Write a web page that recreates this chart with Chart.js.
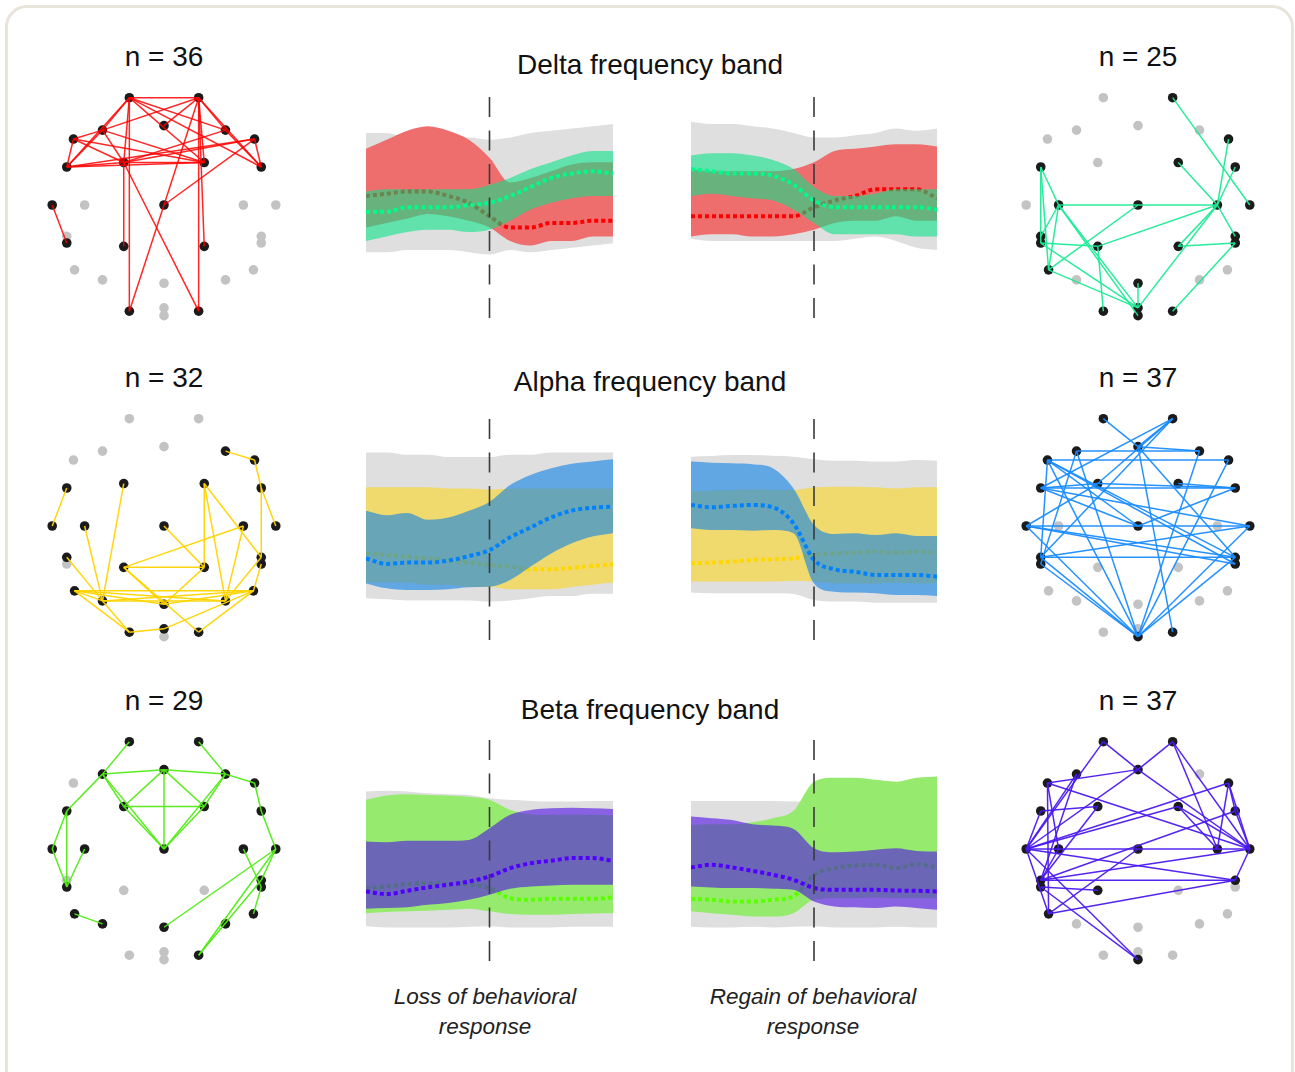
<!DOCTYPE html>
<html>
<head>
<meta charset="utf-8">
<script src="https://cdn.jsdelivr.net/npm/chart.js@4.4.1/dist/chart.umd.min.js"></script>
<style>
body { margin: 0; background: #fff; width: 1295px; height: 1072px; overflow: hidden; position: relative; font-family: "Liberation Sans", Arial, Helvetica, sans-serif; }
.frame { position: absolute; left: 5px; top: 5px; width: 1283px; height: 1110px; border: 3px solid #e8e4dc; border-radius: 22px; }
canvas { position: absolute; }
.lbl { position: absolute; transform: translate(-50%, -50%); font-size: 28px; color: #111; white-space: nowrap; }
.cap { position: absolute; transform: translateX(-50%); font-size: 22.5px; font-style: italic; text-align: center; line-height: 30px; color: #222; white-space: nowrap; }
</style>
</head>
<body>
<div class="frame"></div>

<div class="lbl" style="left:164px; top:57px">n = 36</div>
<div class="lbl" style="left:1138px; top:57px">n = 25</div>
<div class="lbl" style="left:650px; top:65px">Delta frequency band</div>
<div class="lbl" style="left:164px; top:378px">n = 32</div>
<div class="lbl" style="left:1138px; top:378px">n = 37</div>
<div class="lbl" style="left:650px; top:382px">Alpha frequency band</div>
<div class="lbl" style="left:164px; top:701px">n = 29</div>
<div class="lbl" style="left:1138px; top:701px">n = 37</div>
<div class="lbl" style="left:650px; top:710px">Beta frequency band</div>

<div class="cap" style="left:485px; top:982px">Loss of behavioral<br>response</div>
<div class="cap" style="left:813px; top:982px">Regain of behavioral<br>response</div>

<canvas id="net-delta-loss" width="260" height="260" style="left:34px; top:75px"></canvas>
<canvas id="net-delta-regain" width="260" height="260" style="left:1008px; top:75px"></canvas>
<canvas id="net-alpha-loss" width="260" height="260" style="left:34px; top:396px"></canvas>
<canvas id="net-alpha-regain" width="260" height="260" style="left:1008px; top:396px"></canvas>
<canvas id="net-beta-loss" width="260" height="260" style="left:34px; top:719px"></canvas>
<canvas id="net-beta-regain" width="260" height="260" style="left:1008px; top:719px"></canvas>

<canvas id="band-delta-loss" width="247" height="225" style="left:366px; top:97px"></canvas>
<canvas id="band-delta-regain" width="246" height="225" style="left:691px; top:97px"></canvas>
<canvas id="band-alpha-loss" width="247" height="224" style="left:366px; top:419px"></canvas>
<canvas id="band-alpha-regain" width="246" height="224" style="left:691px; top:419px"></canvas>
<canvas id="band-beta-loss" width="247" height="224" style="left:366px; top:740px"></canvas>
<canvas id="band-beta-regain" width="246" height="224" style="left:691px; top:740px"></canvas>

<script>
// start: data
// time relative to loss / regain of response (s)
const times = [-60, -50, -40, -30, -20, -10, 0, 10, 20, 30, 40, 50, 60]

// electrode layout (head seen from above, nose up)
const electrodeNames = ['Fp1','Fp2','Fz','F3','F4','F7','F8','FC5','FC6','FC1','FC2','T7','T8','C3','C4','Cz','TP9','TP10','CP5','CP6','CP1','CP2','P7','P8','P3','P4','Pz','O1','O2','POz','Oz']
const electrodeX = [-0.31, 0.31, 0, -0.55, 0.55, -0.81, 0.81, -0.87, 0.87, -0.36, 0.36, -1, 1, -0.71, 0.71, 0, -0.87, 0.87, -0.87, 0.87, -0.36, 0.36, -0.80, 0.80, -0.55, 0.55, 0, -0.31, 0.31, 0, 0]
const electrodeY = [0.96, 0.96, 0.71, 0.67, 0.67, 0.59, 0.59, 0.34, 0.34, 0.38, 0.38, 0, 0, 0, 0, 0, -0.28, -0.28, -0.34, -0.34, -0.37, -0.37, -0.58, -0.58, -0.67, -0.67, -0.70, -0.95, -0.95, -0.92, -0.99]

// delta
const deltaLossNodes = ['Fp1','Fp2','Fz','F3','F4','F7','F8','FC5','FC6','FC1','FC2','T7','Cz','CP5','CP1','CP2','O1','O2']
const deltaLossEdges = [['Fp1','Fp2'],['Fp1','F3'],['Fp1','FC5'],['Fp1','FC1'],['Fp1','O1'],['Fp1','F4'],['Fp1','FC2'],['Fp1','FC6'],['Fp2','F3'],['Fp2','Fz'],['Fp2','F4'],['Fp2','FC6'],['Fp2','FC2'],['Fp2','O2'],['Fp2','CP2'],['Fp2','Cz'],['F3','FC5'],['F3','FC1'],['F3','FC2'],['F4','FC1'],['F4','FC6'],['F7','FC5'],['F7','FC1'],['F7','FC2'],['F7','F3'],['F8','FC1'],['F8','FC6'],['F8','FC5'],['F8','Cz'],['FC5','FC1'],['FC5','FC2'],['FC1','FC2'],['FC1','CP1'],['FC1','O2'],['Cz','O1'],['T7','CP5']]
const deltaRegainNodes = ['Fp2','F8','FC5','FC2','FC6','T8','C3','Cz','C4','TP9','CP5','TP10','CP6','CP1','CP2','P7','Pz','O1','O2','POz','Oz']
const deltaRegainEdges = [['Fp2','T8'],['F8','C4'],['FC6','C4'],['FC2','C4'],['C3','Cz'],['Cz','C4'],['FC5','C3'],['FC5','P7'],['FC5','CP5'],['C3','TP9'],['C3','P7'],['C3','POz'],['C3','Oz'],['CP5','CP1'],['CP5','POz'],['CP1','O1'],['CP1','C4'],['P7','Cz'],['P7','POz'],['Pz','POz'],['POz','C4'],['CP2','C4'],['CP2','CP6'],['C4','TP10'],['O2','CP6']]

const deltaLossGrayTop = [84, 84, 82, 82, 82, 82, 81, 82, 84, 85, 86, 87, 88]
const deltaLossGrayBot = [31, 31, 32, 32, 32, 31, 30, 32, 31, 32, 33, 34, 35]
const deltaLossRedTop = [77, 81, 85, 87, 85, 81, 73, 62, 64, 67, 70, 71, 71]
const deltaLossRedBot = [42, 44, 46, 48, 47, 45, 42, 36, 34, 36, 36, 38, 38]
const deltaLossRedMean = [56, 57, 58, 58, 56, 53, 47, 42, 42, 44, 44, 45, 45]
const deltaLossGreenTop = [58, 59, 59, 59, 59, 59, 61, 64, 68, 71, 74, 76, 76]
const deltaLossGreenBot = [36, 38, 40, 41, 41, 40, 41, 45, 50, 53, 55, 56, 56]
const deltaLossGreenMean = [49, 49, 51, 51, 51, 52, 53, 56, 60, 64, 66, 67, 66]

const deltaRegainGrayTop = [89, 88, 88, 87, 86, 84, 82, 82, 83, 84, 86, 85, 86]
const deltaRegainGrayBot = [37, 36, 36, 36, 36, 36, 36, 36, 37, 38, 36, 33, 32]
const deltaRegainRedTop = [68, 67, 67, 67, 67, 68, 71, 76, 77, 78, 79, 79, 78]
const deltaRegainRedBot = [38, 39, 39, 38, 38, 39, 41, 44, 45, 45, 47, 45, 45]
const deltaRegainRedMean = [47, 47, 47, 47, 47, 47, 51, 54, 56, 59, 59, 59, 55]
const deltaRegainGreenTop = [74, 75, 75, 74, 72, 68, 60, 56, 56, 57, 59, 59, 59]
const deltaRegainGreenBot = [56, 57, 56, 55, 54, 50, 44, 39, 39, 39, 39, 38, 38]
const deltaRegainGreenMean = [68, 67, 66, 66, 65, 61, 54, 51, 51, 51, 51, 51, 50]

// alpha
const alphaLossNodes = ['F4','F8','FC5','FC6','FC1','FC2','T7','T8','C3','C4','Cz','TP9','TP10','CP6','CP1','CP2','P7','P8','P3','P4','Pz','O1','O2','POz']
const alphaLossEdges = [['F4','F8'],['F8','FC6'],['FC6','T8'],['FC6','TP10'],['FC5','T7'],['FC1','P3'],['C3','P3'],['TP9','P3'],['Cz','CP2'],['FC2','CP2'],['FC2','P4'],['FC2','TP10'],['C4','CP1'],['C4','P4'],['CP1','CP2'],['CP1','Pz'],['CP2','Pz'],['P7','P3'],['P7','Pz'],['P7','P4'],['P7','P8'],['P7','O1'],['P3','P4'],['P3','O1'],['P3','P8'],['Pz','P8'],['CP1','O2'],['O1','POz'],['POz','P8'],['O2','P8'],['TP10','P4'],['CP6','P8']]
const alphaRegainNodes = ['Fp1','Fp2','Fz','F3','F4','F7','F8','FC5','FC6','FC1','FC2','T7','T8','Cz','TP9','CP5','TP10','CP6','O2','Oz']
const alphaRegainEdges = [['Fp1','Fz'],['Fp2','Fz'],['Fp2','FC1'],['Fp2','FC5'],['Fp2','TP9'],['Fz','F4'],['Fz','TP10'],['F3','F4'],['F3','Oz'],['F3','CP5'],['F7','F8'],['F7','TP9'],['F7','Oz'],['F7','TP10'],['F7','CP6'],['F7','Cz'],['FC5','FC6'],['FC5','FC1'],['FC5','T8'],['FC5','Cz'],['FC1','FC6'],['F8','Oz'],['FC2','FC6'],['FC6','Cz'],['T7','T8'],['T7','TP10'],['T7','CP6'],['T7','Oz'],['TP9','TP10'],['TP9','T8'],['CP5','Oz'],['TP9','Oz'],['TP10','Oz'],['Fz','O2'],['T8','Oz'],['F4','Oz'],['T7','FC1']]

const alphaLossGrayTop = [85, 85, 84, 84, 83, 83, 83, 84, 84, 85, 85, 85, 85]
const alphaLossGrayBot = [20, 19.5, 19, 19, 19, 19, 18.5, 19, 20, 21, 21, 22, 22]
const alphaLossYellowTop = [69.5, 69.5, 69.5, 69.5, 69, 69, 68.5, 69, 69, 69, 69, 69, 69]
const alphaLossYellowBot = [27, 27, 27, 26, 26, 25, 25, 24, 24, 24, 25, 26, 27]
const alphaLossYellowMean = [40, 39.3, 38.5, 37.8, 36.8, 35.9, 34.8, 34.1, 32.9, 32.9, 33.5, 34.4, 35.1]
const alphaLossBlueTop = [59, 57, 58, 55, 56, 59, 63, 70.5, 75, 78, 80, 81, 82]
const alphaLossBlueBot = [26.6, 24.4, 23.7, 23.7, 24, 24.9, 25.1, 28.1, 34.1, 40, 44.5, 47.5, 49]
const alphaLossBlueMean = [37.8, 35.3, 35.9, 35.9, 36.8, 38.8, 41.5, 47.2, 51.6, 56.1, 59.1, 60.4, 60.9]

const alphaRegainGrayTop = [83.2, 83.5, 83.9, 83.9, 83.6, 83.2, 82, 81.4, 81.4, 81, 81, 81.7, 81.4]
const alphaRegainGrayBot = [22.5, 22.2, 22.2, 22.2, 22.2, 21.9, 19.2, 18.5, 18.5, 18, 18, 18, 18]
const alphaRegainYellowTop = [67.6, 68, 68.3, 68.6, 68.3, 68.3, 69.5, 69.8, 69.8, 69.5, 69, 69.5, 69.5]
const alphaRegainYellowBot = [27.4, 27.4, 27.4, 27.4, 27.4, 27.8, 27.4, 26.6, 26.6, 26.6, 26.9, 26.6, 26.6]
const alphaRegainYellowMean = [35.6, 35.9, 36.3, 37.1, 37.4, 37.8, 39.3, 40, 40.3, 40.8, 40.3, 40.8, 40.3]
const alphaRegainBlueTop = [81, 80.5, 80.2, 79.8, 78, 69, 52.7, 48.7, 49, 48.2, 49, 47.8, 47.8]
const alphaRegainBlueBot = [51.2, 50.4, 50.4, 50.1, 50.4, 49, 26.6, 22.9, 22.5, 22.2, 21.4, 21.4, 21]
const alphaRegainBlueMean = [61.6, 60.6, 61.2, 61.6, 60.6, 53.4, 37.1, 32.9, 31.8, 30.4, 30.4, 30.4, 29.6]

// beta
const betaLossNodes = ['Fp1','Fp2','Fz','F3','F4','F8','FC5','FC6','FC1','FC2','T7','T8','C3','C4','Cz','CP5','TP10','CP6','P7','P8','P3','P4','Pz','O2']
const betaLossEdges = [['Fp1','F3'],['Fp2','F4'],['F3','Fz'],['Fz','F4'],['F4','F8'],['F8','FC6'],['FC6','T8'],['F3','FC5'],['F3','FC1'],['F3','Cz'],['Fz','FC1'],['Fz','FC2'],['Fz','Cz'],['F4','FC2'],['F4','Cz'],['FC1','FC2'],['FC1','Cz'],['FC2','Cz'],['FC5','T7'],['FC5','CP5'],['T7','CP5'],['C3','CP5'],['P7','P3'],['T8','Pz'],['T8','TP10'],['T8','O2'],['TP10','O2'],['C4','CP6'],['CP6','P8']]
const betaRegainNodes = ['Fp1','Fp2','Fz','F3','F7','F8','FC5','FC6','FC1','FC2','T7','T8','C3','C4','Cz','TP9','CP5','TP10','CP1','P7','Oz']
const betaRegainEdges = [['Fp1','Fz'],['Fp1','T7'],['Fp2','Fz'],['Fp2','C4'],['Fp2','T8'],['F7','Fz'],['F3','T7'],['F3','TP9'],['F7','P7'],['F7','T8'],['F7','C3'],['FC5','FC1'],['FC5','T7'],['FC1','TP9'],['Fz','T8'],['Fz','T7'],['F8','FC6'],['F8','C4'],['F8','T7'],['F8','T8'],['FC2','T8'],['FC2','C4'],['FC6','TP9'],['FC6','T8'],['T7','T8'],['T7','TP10'],['T7','P7'],['T7','Oz'],['T8','TP9'],['T8','TP10'],['TP9','TP10'],['CP5','CP1'],['CP5','Oz'],['Cz','P7'],['TP10','P7'],['C3','TP9'],['T7','FC2']]

const betaLossGrayTop = [77, 77.3, 77, 76.2, 75.8, 75.5, 74, 73.3, 72.8, 72.5, 72.5, 72.8, 72.8]
const betaLossGrayBot = [16.8, 16.3, 16.3, 16.3, 16.3, 16.6, 16.8, 16.3, 16.3, 16.3, 16.6, 16.6, 16.6]
const betaLossGreenTop = [73.3, 75.2, 75.8, 75.5, 75.2, 74.7, 73.3, 68.8, 66.9, 66.6, 66.6, 66.6, 66.3]
const betaLossGreenBot = [22.7, 23.2, 23.5, 23.8, 24.2, 24.7, 23.5, 22.3, 22, 22, 22.3, 22.6, 22.7]
const betaLossGreenMean = [33.6, 34.6, 35.7, 36.1, 35.7, 35.4, 33.9, 29.4, 28.7, 29.1, 29.1, 29.1, 29.7]
const betaLossVioletTop = [54.7, 54.4, 55, 55, 55, 55.4, 60.6, 66.6, 68.8, 69.5, 69.8, 69.5, 69.2]
const betaLossVioletBot = [24.7, 25, 25.3, 26.4, 27.2, 28.7, 30.9, 33.6, 34.6, 35.1, 35.4, 35.4, 35.4]
const betaLossVioletMean = [32.4, 31.2, 32.7, 34.2, 35.4, 36.8, 39.1, 42.8, 45, 46.1, 47.3, 47.3, 46.1]

const betaRegainGrayTop = [72.8, 72.8, 72.8, 72.8, 72.8, 72.5, 72.5, 72.5, 72.5, 72.5, 72.5, 72.5, 72.5]
const betaRegainGrayBot = [16.6, 16.3, 16.3, 16.6, 16.3, 16.6, 16.8, 16.3, 16.3, 16.3, 16.6, 16.3, 16.3]
const betaRegainGreenTop = [62.1, 62.4, 62.4, 63.3, 65.1, 68.4, 81.4, 83.2, 83.2, 82.2, 81.4, 83.2, 83.7]
const betaRegainGreenBot = [23.5, 22.7, 22, 21.2, 21.2, 22.7, 28.7, 29.4, 29.4, 29.7, 29.4, 29.4, 29.4]
const betaRegainGreenMean = [29.1, 28.7, 27.9, 27.9, 28.7, 30.2, 39.8, 42.8, 44, 44.3, 42.8, 44.6, 43.1]
const betaRegainVioletTop = [65.8, 65.1, 64.3, 62.4, 61.8, 60.3, 51.7, 49.9, 50.2, 51, 51.7, 50.5, 50.2]
const betaRegainVioletBot = [34.6, 34.2, 33.9, 33.9, 33.6, 33.1, 27.9, 25.7, 25.3, 25, 25.7, 25, 24.2]
const betaRegainVioletMean = [43.1, 44.3, 43.1, 41.6, 39.8, 37.6, 33.9, 33.1, 33.1, 33.1, 32.8, 32.7, 32.4]
// end: data

// start: colours
// first group of each band is opaque, the second one is see-through on top of it
const grayBand = '#dfdfdf'
const red = { band: 'rgb(238, 110, 110)', dots: 'rgb(250, 0, 0)', edge: 'rgba(255, 0, 0, 0.85)' }
const mint = { band: 'rgba(9, 226, 136, 0.59)', dots: 'rgb(0, 250, 140)', edge: 'rgba(30, 235, 150, 0.95)' }
const yellow = { band: 'rgb(240, 218, 110)', dots: 'rgb(255, 215, 0)', edge: 'rgba(255, 212, 0, 0.95)' }
const blue = { band: 'rgba(13, 130, 230, 0.6)', dots: 'rgb(0, 130, 255)', edge: 'rgba(25, 140, 255, 0.95)' }
const lime = { band: 'rgb(150, 235, 110)', dots: 'rgb(90, 255, 0)', edge: 'rgba(80, 235, 20, 0.95)' }
const violet = { band: 'rgba(80, 13, 230, 0.6)', dots: 'rgb(80, 0, 255)', edge: 'rgba(75, 25, 240, 0.95)' }
// end: colours

// start: network plots
function electrode(name) {
    const i = electrodeNames.indexOf(name)
    return { x: electrodeX[i], y: electrodeY[i] }
}

function drawNetwork(id, nodes, edges, colour) {
    const datasets = []
    edges.forEach(function (e) {
        datasets.push({
            data: [electrode(e[0]), electrode(e[1])],
            showLine: true,
            borderColor: colour.edge,
            borderWidth: 1.5,
            pointRadius: 0,
            order: 0
        })
    })
    datasets.push({
        data: nodes.map(electrode),
        pointRadius: 4.8,
        backgroundColor: '#1b1b1b',
        borderWidth: 0,
        order: 1
    })
    datasets.push({
        data: electrodeNames.filter(n => !nodes.includes(n)).map(electrode),
        pointRadius: 4.8,
        backgroundColor: '#c3c3c3',
        borderWidth: 0,
        order: 2
    })
    new Chart(document.getElementById(id), {
        type: 'scatter',
        data: { datasets: datasets },
        options: {
            responsive: false,
            animation: false,
            events: [],
            layout: { padding: 0 },
            plugins: { legend: { display: false }, tooltip: { enabled: false } },
            scales: {
                x: { min: -1.12, max: 1.12, display: false },
                y: { min: -1.12, max: 1.12, display: false }
            }
        }
    })
}
// end: network plots

// start: band plots
function pts(values) {
    return values.map((v, i) => ({ x: times[i], y: v }))
}

function edgeLine(values, fill, colour, order) {
    return {
        data: pts(values),
        fill: fill,
        backgroundColor: colour,
        borderColor: 'rgba(0,0,0,0)',
        borderWidth: 0,
        pointRadius: 0,
        cubicInterpolationMode: 'monotone',
        order: order
    }
}

function meanLine(values, colour, order) {
    return {
        data: pts(values),
        fill: false,
        borderColor: colour,
        borderWidth: 4,
        borderDash: [4, 3],
        borderCapStyle: 'butt',
        pointRadius: 0,
        cubicInterpolationMode: 'monotone',
        order: order
    }
}

// first group is drawn underneath, second group on top
function drawBands(id, gray, first, second) {
    const datasets = [
        edgeLine(gray[0], '+1', grayBand, 10),
        edgeLine(gray[1], false, grayBand, 10),
        edgeLine(first.top, '+1', first.colour.band, 9),
        edgeLine(first.bot, false, first.colour.band, 9),
        meanLine(first.mean, first.colour.dots, 8),
        edgeLine(second.top, '+1', second.colour.band, 7),
        edgeLine(second.bot, false, second.colour.band, 7),
        meanLine(second.mean, second.colour.dots, 6),
        {
            // response onset
            data: [{ x: 0, y: 100 }, { x: 0, y: 0 }],
            borderColor: '#3a3a3a',
            borderWidth: 1.6,
            borderDash: [20, 13.5],
            pointRadius: 0,
            fill: false,
            order: 0
        }
    ]
    new Chart(document.getElementById(id), {
        type: 'line',
        data: { datasets: datasets },
        options: {
            responsive: false,
            animation: false,
            events: [],
            layout: { padding: 0 },
            plugins: { legend: { display: false }, tooltip: { enabled: false } },
            scales: {
                x: { type: 'linear', min: -60, max: 60, display: false },
                y: { min: 0, max: 100, display: false }
            }
        }
    })
}
// end: band plots

drawNetwork('net-delta-loss', deltaLossNodes, deltaLossEdges, red)
drawNetwork('net-delta-regain', deltaRegainNodes, deltaRegainEdges, mint)
drawNetwork('net-alpha-loss', alphaLossNodes, alphaLossEdges, yellow)
drawNetwork('net-alpha-regain', alphaRegainNodes, alphaRegainEdges, blue)
drawNetwork('net-beta-loss', betaLossNodes, betaLossEdges, lime)
drawNetwork('net-beta-regain', betaRegainNodes, betaRegainEdges, violet)

drawBands('band-delta-loss', [deltaLossGrayTop, deltaLossGrayBot],
    { top: deltaLossRedTop, bot: deltaLossRedBot, mean: deltaLossRedMean, colour: red },
    { top: deltaLossGreenTop, bot: deltaLossGreenBot, mean: deltaLossGreenMean, colour: mint })
drawBands('band-delta-regain', [deltaRegainGrayTop, deltaRegainGrayBot],
    { top: deltaRegainRedTop, bot: deltaRegainRedBot, mean: deltaRegainRedMean, colour: red },
    { top: deltaRegainGreenTop, bot: deltaRegainGreenBot, mean: deltaRegainGreenMean, colour: mint })
drawBands('band-alpha-loss', [alphaLossGrayTop, alphaLossGrayBot],
    { top: alphaLossYellowTop, bot: alphaLossYellowBot, mean: alphaLossYellowMean, colour: yellow },
    { top: alphaLossBlueTop, bot: alphaLossBlueBot, mean: alphaLossBlueMean, colour: blue })
drawBands('band-alpha-regain', [alphaRegainGrayTop, alphaRegainGrayBot],
    { top: alphaRegainYellowTop, bot: alphaRegainYellowBot, mean: alphaRegainYellowMean, colour: yellow },
    { top: alphaRegainBlueTop, bot: alphaRegainBlueBot, mean: alphaRegainBlueMean, colour: blue })
drawBands('band-beta-loss', [betaLossGrayTop, betaLossGrayBot],
    { top: betaLossGreenTop, bot: betaLossGreenBot, mean: betaLossGreenMean, colour: lime },
    { top: betaLossVioletTop, bot: betaLossVioletBot, mean: betaLossVioletMean, colour: violet })
drawBands('band-beta-regain', [betaRegainGrayTop, betaRegainGrayBot],
    { top: betaRegainGreenTop, bot: betaRegainGreenBot, mean: betaRegainGreenMean, colour: lime },
    { top: betaRegainVioletTop, bot: betaRegainVioletBot, mean: betaRegainVioletMean, colour: violet })
</script>
</body>
</html>
